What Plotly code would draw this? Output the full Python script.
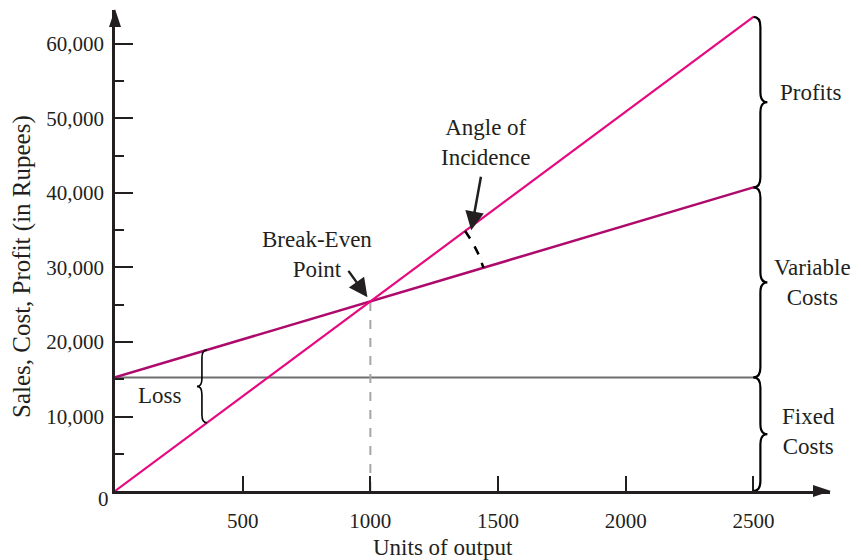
import numpy as np
import plotly.graph_objects as go

# ---------------- data ----------------
units = [0, 1000, 2500]
sales = [0, 25450, 63625]
total_cost = [15250, 25450, 40750]
fixed_cost = [15250, 15250, 15250]
break_even_units = 1000
break_even_value = 25450

x_tickvals = [500, 1000, 1500, 2000, 2500]
x_ticktext = ["500", "1000", "1500", "2000", "2500"]
y_tickvals = [10000, 20000, 30000, 40000, 50000, 60000]
y_ticktext = ["10,000", "20,000", "30,000", "40,000", "50,000", "60,000"]
y_minorvals = [5000, 15000, 25000, 35000, 45000, 55000]

# ---------------- geometry ----------------
W, H = 861, 560
ML, MR, MT, MB = 115, 31, 10, 69
XMAX, YMAX = 2800, 64560
PW, PH = W - ML - MR, H - MT - MB
XPPU, YPPU = PW / XMAX, PH / YMAX

FONT = "Liberation Serif, Times New Roman, serif"
TXT = "#231f20"
SALES_C = "#e6097f"
COST_C = "#ad0a6c"
FIXED_C = "#6e6e6e"


def dxp(px):
    return px / XPPU


def dyp(px):
    return px / YPPU


def paper(px, py):
    return (px - ML) / PW, (H - MB - py) / PH


def brace(x, y_low, y_high, w_px, r_px, d=1):
    xm = x + d * dxp(w_px / 2)
    xt = x + d * dxp(w_px)
    r = dyp(r_px)
    ym = (y_low + y_high) / 2
    return (f"M {x},{y_high} Q {xm},{y_high} {xm},{y_high - r} "
            f"L {xm},{ym + r} Q {xm},{ym} {xt},{ym} Q {xm},{ym} {xm},{ym - r} "
            f"L {xm},{y_low + r} Q {xm},{y_low} {x},{y_low}")


fig = go.Figure()

fig.add_trace(go.Scatter(x=units, y=fixed_cost, mode="lines",
                         line=dict(color=FIXED_C, width=2), hoverinfo="skip"))
fig.add_trace(go.Scatter(x=[break_even_units, break_even_units], y=[0, break_even_value],
                         mode="lines", line=dict(color="#a6a6a6", width=2, dash="dash"),
                         hoverinfo="skip"))
fig.add_trace(go.Scatter(x=units, y=total_cost, mode="lines",
                         line=dict(color=COST_C, width=2.5), hoverinfo="skip"))
fig.add_trace(go.Scatter(x=units, y=sales, mode="lines",
                         line=dict(color=SALES_C, width=2.2), hoverinfo="skip"))

# angle of incidence arc
s_slope = (sales[-1] - sales[0]) / (units[-1] - units[0])
c_slope = (total_cost[-1] - total_cost[0]) / (units[-1] - units[0])
a1 = np.arctan(s_slope * YPPU / XPPU)
a2 = np.arctan(c_slope * YPPU / XPPU)
ang = np.linspace(a1, a2, 30)
R = 118
fig.add_trace(go.Scatter(x=break_even_units + dxp(R * np.cos(ang)),
                         y=break_even_value + dyp(R * np.sin(ang)),
                         mode="lines", line=dict(color="black", width=2.5, dash="dash"),
                         hoverinfo="skip"))

shapes = []
# right braces
xe = units[-1]
for lo, hi in [(total_cost[-1], sales[-1]), (fixed_cost[-1], total_cost[-1]), (0, fixed_cost[-1])]:
    shapes.append(dict(type="path", path=brace(xe, lo, hi, 14, 10),
                       line=dict(color="black", width=2.2), xref="x", yref="y"))
# loss brace
xl = 360
shapes.append(dict(type="path",
                   path=brace(xl, s_slope * xl, total_cost[0] + c_slope * xl, 10, 8, d=-1),
                   line=dict(color="black", width=1.6), xref="x", yref="y"))


# axis arrowheads (paper coords)
def tri(p1, p2, p3):
    a, b, c = paper(*p1), paper(*p2), paper(*p3)
    return f"M {a[0]},{a[1]} L {b[0]},{b[1]} L {c[0]},{c[1]} Z"


shapes.append(dict(type="path", xref="paper", yref="paper",
                   path=tri((ML, MT - 1), (ML - 6, MT + 17), (ML + 6, MT + 17)),
                   fillcolor="#231f20", line=dict(width=0)))
shapes.append(dict(type="path", xref="paper", yref="paper",
                   path=tri((W - MR + 1, H - MB), (W - MR - 17, H - MB - 6), (W - MR - 17, H - MB + 6)),
                   fillcolor="#231f20", line=dict(width=0)))

annotations = []


def label(text, px, py, size=23, **kw):
    xp, yp = paper(px, py)
    annotations.append(dict(text=text, x=xp, y=yp, xref="paper", yref="paper",
                            showarrow=False, xanchor="center", yanchor="middle",
                            font=dict(family=FONT, size=size, color=TXT), **kw))


label("Profits", 810, 93)
label("Variable<br>Costs", 812, 282)
label("Fixed<br>Costs", 808, 432)
label("Loss", 160, 395)
label("Break-Even<br>Point", 317, 254)
label("Angle of<br>Incidence", 485, 143)
label("0", 103, 499, size=21)
label("Units of output", 443, 547, size=23)
label("Sales, Cost, Profit (in Rupees)", 22, 267, size=25, textangle=-90)

annotations.append(dict(x=break_even_units, y=break_even_value, xref="x", yref="y",
                        text="", showarrow=True, ax=-23, ay=-32, standoff=5,
                        arrowhead=2, arrowsize=1.5, arrowwidth=2.5, arrowcolor="#231f20"))
annotations.append(dict(x=1395, y=35000, xref="x", yref="y",
                        text="", showarrow=True, ax=10, ay=-55, standoff=0,
                        arrowhead=2, arrowsize=1.5, arrowwidth=2.5, arrowcolor="#231f20"))

fig.update_layout(
    width=W, height=H,
    margin=dict(l=ML, r=MR, t=MT, b=MB),
    paper_bgcolor="white", plot_bgcolor="white",
    showlegend=False,
    shapes=shapes, annotations=annotations,
    xaxis=dict(range=[0, XMAX], showgrid=False, zeroline=False,
               showline=True, linecolor="#231f20", linewidth=2.5,
               ticks="inside", ticklen=15, tickwidth=2, tickcolor="#231f20",
               tickvals=x_tickvals, ticktext=x_ticktext, ticklabelstandoff=9,
               tickfont=dict(family=FONT, size=21, color=TXT)),
    yaxis=dict(range=[0, YMAX], showgrid=False, zeroline=False,
               showline=True, linecolor="#231f20", linewidth=2.5,
               ticks="inside", ticklen=18, tickwidth=2, tickcolor="#231f20",
               tickvals=y_tickvals, ticktext=y_ticktext, ticklabelstandoff=4,
               tickfont=dict(family=FONT, size=21, color=TXT),
               minor=dict(tickvals=y_minorvals, ticks="inside", ticklen=9,
                          tickwidth=2, tickcolor="#231f20")),
)

fig.write_html("out.html", config={"displayModeBar": False},
               post_script="document.body.style.margin='0';document.body.style.overflow='hidden';")
